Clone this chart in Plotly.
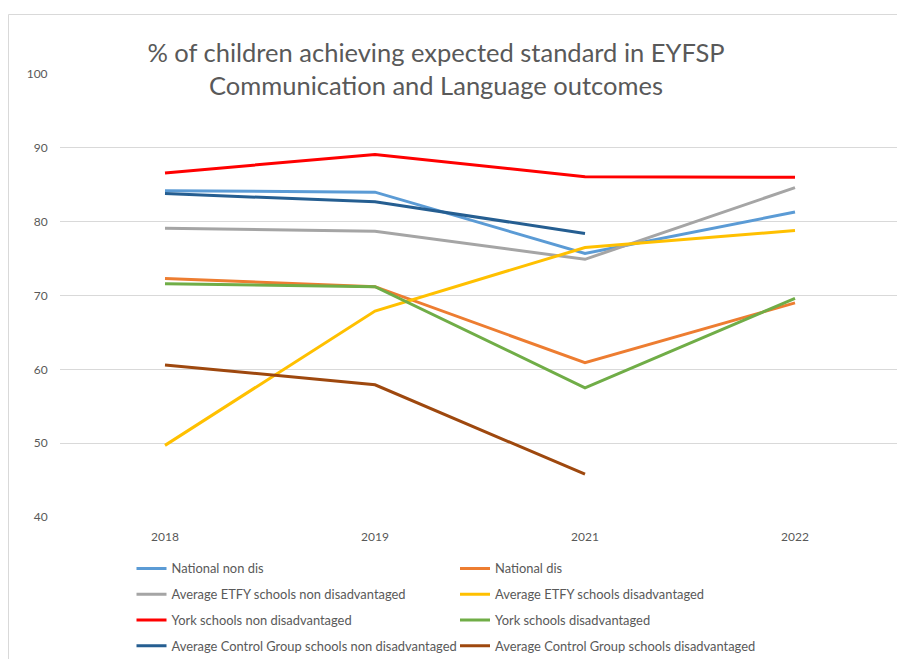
import plotly.graph_objects as go

years = ["2018", "2019", "2021", "2022"]

national_non_dis = [84.2, 84.0, 75.7, 81.3]
national_dis = [72.3, 71.2, 60.9, 69.0]
etfy_non_dis = [79.1, 78.7, 74.9, 84.6]
etfy_dis = [49.7, 67.9, 76.5, 78.8]
york_non_dis = [86.6, 89.1, 86.1, 86.0]
york_dis = [71.6, 71.2, 57.5, 69.6]
control_non_dis = [83.8, 82.7, 78.4, None]
control_dis = [60.6, 57.9, 45.8, None]

series_names = [
    "National non dis",
    "National dis",
    "Average ETFY schools non disadvantaged",
    "Average ETFY schools disadvantaged",
    "York schools non disadvantaged",
    "York schools disadvantaged",
    "Average Control Group schools non disadvantaged",
    "Average Control Group schools disadvantaged",
]
series_values = [national_non_dis, national_dis, etfy_non_dis, etfy_dis,
                 york_non_dis, york_dis, control_non_dis, control_dis]
colors = ["#5B9BD5", "#ED7D31", "#A5A5A5", "#FFC000",
          "#FF0000", "#70AD47", "#255E91", "#9E480E"]

FONT = "Lato"
GREY = "#595959"

fig = go.Figure()
for i, (name, vals, col) in enumerate(zip(series_names, series_values, colors)):
    fig.add_trace(go.Scatter(
        x=list(range(len(years))), y=vals, name=name, mode="lines",
        line=dict(color=col, width=3),
        legend="legend" if i % 2 == 0 else "legend2",
        legendgroup=f"g{i}",
        connectgaps=False,
    ))

W, H = 897, 659
L, R, T, B = 60, 0, 74, 142
pw = W - L - R
ph = H - T - B

def px_x(x):
    return (x - L) / pw

def px_y(y):
    return (H - B - y) / ph

legend_common = dict(
    font=dict(family=FONT, size=12.9, color=GREY),
    bgcolor="rgba(0,0,0,0)",
    borderwidth=0,
    traceorder="grouped",
    tracegroupgap=6,
    orientation="v",
    xanchor="left",
    yanchor="top",
    xref="container",
    yref="container",
    itemclick=False,
)

fig.update_layout(
    width=W, height=H,
    margin=dict(l=L, r=R, t=T, b=B, autoexpand=False),
    paper_bgcolor="white",
    plot_bgcolor="white",
    title=dict(
        text="% of children achieving expected standard in EYFSP<br>Communication and Language outcomes",
        font=dict(family=FONT, size=25.5, color=GREY),
        x=436 / W, xanchor="center",
        y=1 - 62 / H, yanchor="middle",
        xref="container", yref="container",
    ),
    xaxis=dict(
        tickmode="array",
        tickvals=list(range(len(years))),
        ticktext=years,
        range=[-0.5, -0.5 + pw / 210],
        showgrid=False, zeroline=False, showline=False,
        ticks="outside", ticklen=9, tickcolor="rgba(0,0,0,0)",
        tickfont=dict(family=FONT, size=12, color=GREY),
        fixedrange=True,
    ),
    yaxis=dict(
        range=[40, 100],
        dtick=10,
        showgrid=True, gridcolor="#D9D9D9", gridwidth=1,
        zeroline=False, showline=False,
        ticks="outside", ticklen=9, tickcolor="rgba(0,0,0,0)",
        tickfont=dict(family=FONT, size=12, color=GREY),
        fixedrange=True,
    ),
    legend=dict(x=131.5 / W, y=1 - 553.5 / H, **legend_common),
    legend2=dict(x=455 / W, y=1 - 553.5 / H, **legend_common),
    shapes=[dict(
        type="rect", xref="paper", yref="paper",
        x0=px_x(8.5), x1=px_x(W + 50), y0=px_y(H + 50), y1=px_y(14.5),
        line=dict(color="#D9D9D9", width=1), fillcolor="rgba(0,0,0,0)",
        layer="below",
    )],
    showlegend=True,
)

fig.write_html(
    "out.html",
    config={"displayModeBar": False},
    post_script="document.body.style.margin='0';document.body.style.overflow='hidden';",
)
